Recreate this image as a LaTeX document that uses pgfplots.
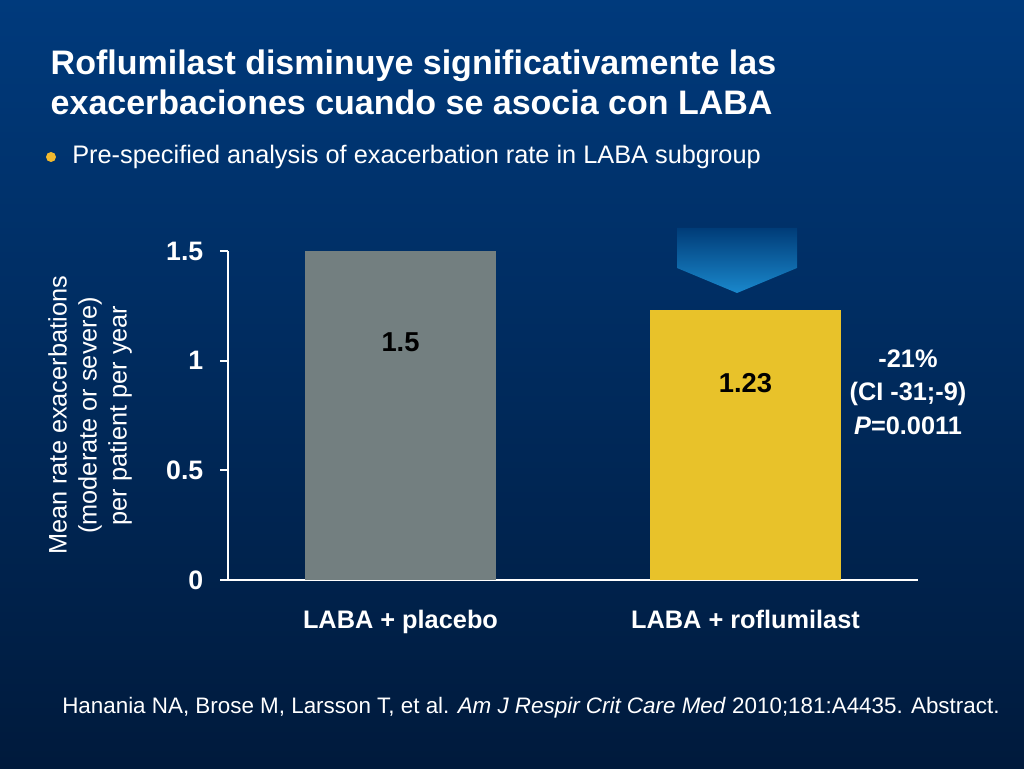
\documentclass[border=0pt]{standalone}
\usepackage{pgfplots}
\pgfplotsset{compat=1.18}
\usepackage{fontspec}
\setmainfont{Liberation Sans}
\definecolor{bgtop}{HTML}{003A7C}
\definecolor{bgbot}{HTML}{001A3C}
\definecolor{grbar}{HTML}{737F80}
\definecolor{yebar}{HTML}{E8C22A}
\definecolor{bul}{HTML}{F2B92E}
\definecolor{arrtop}{HTML}{003C78}
\definecolor{arrbot}{HTML}{1A88CC}
\begin{document}
\begin{tikzpicture}
\begin{scope}[x=0.75pt,y=0.75pt]
\shade[top color=bgtop,bottom color=bgbot] (0,0) rectangle (1024,768);
% title
\node[anchor=west,text=white,font=\fontsize{25.5}{30}\selectfont\bfseries,align=left] at (46,768-82)
  {Roflumilast disminuye significativamente las\\exacerbaciones cuando se asocia con LABA};
% bullet
\fill[bul] (51,768-157) circle (5);
\node[anchor=west,text=white,font=\fontsize{19}{22}\selectfont,inner sep=0] at (72,768-157)
  {Pre-specified analysis of exacerbation rate in LABA subgroup};
\end{scope}
\begin{axis}[
  at={(171pt,141pt)}, anchor=south west,
  scale only axis, width=517.5pt, height=246.75pt,
  xmin=-0.5, xmax=1.5, ymin=0, ymax=1.5,
  axis lines=left, axis line style={-,white,line width=1.6pt},
  ytick={0,0.5,1,1.5}, yticklabels={0,0.5,1,1.5},
  xtick={0,1}, xticklabels={LABA + placebo, LABA + roflumilast},
  major x tick style={draw=none},
  major y tick style={white,line width=1.6pt},
  tick align=outside, major tick length=6pt,
  /pgf/number format/assume math mode=true,
  yticklabel style={text=white,font=\fontsize{20}{22}\selectfont\bfseries,anchor=east,xshift=-9pt},
  xticklabel style={text=white,font=\fontsize{19}{22}\selectfont\bfseries,yshift=-13pt},
  ylabel={Mean rate exacerbations\\(moderate or severe)\\per patient per year},
  ylabel style={at={(axis description cs:-0.2,0.5)},anchor=center,align=center,text=white,
    font=\fontsize{19}{22.5}\selectfont},
  clip=false,
]
\addplot[ybar,bar width=0.556,fill=grbar,draw=none] coordinates {(0,1.5)};
\addplot[ybar,bar width=0.556,fill=yebar,draw=none] coordinates {(1,1.23)};
\node[font=\fontsize{20.5}{22}\selectfont\bfseries] at (axis cs:0,1.085) {1.5};
\node[font=\fontsize{20.5}{22}\selectfont\bfseries] at (axis cs:1,0.898) {1.23};
\end{axis}
\begin{scope}[x=0.75pt,y=0.75pt]
% arrow
\shade[top color=arrtop,bottom color=arrbot] (677,768-228) -- (797,768-228) -- (797,768-268) -- (737,768-293) -- (677,768-268) -- cycle;
% annotation
\node[text=white,font=\fontsize{19}{25}\selectfont\bfseries,align=center] at (908,768-392)
  {-21\%\\(CI -31;-9)\\\textit{P}=0.0011};
% citation
\node[anchor=west,text=white,font=\fontsize{16.8}{20}\selectfont,inner sep=0] at (62,768-708)
  {Hanania NA, Brose M, Larsson T, et al. \textit{Am J Respir Crit Care Med} 2010;181:A4435. Abstract.};
\end{scope}
\end{tikzpicture}
\end{document}
